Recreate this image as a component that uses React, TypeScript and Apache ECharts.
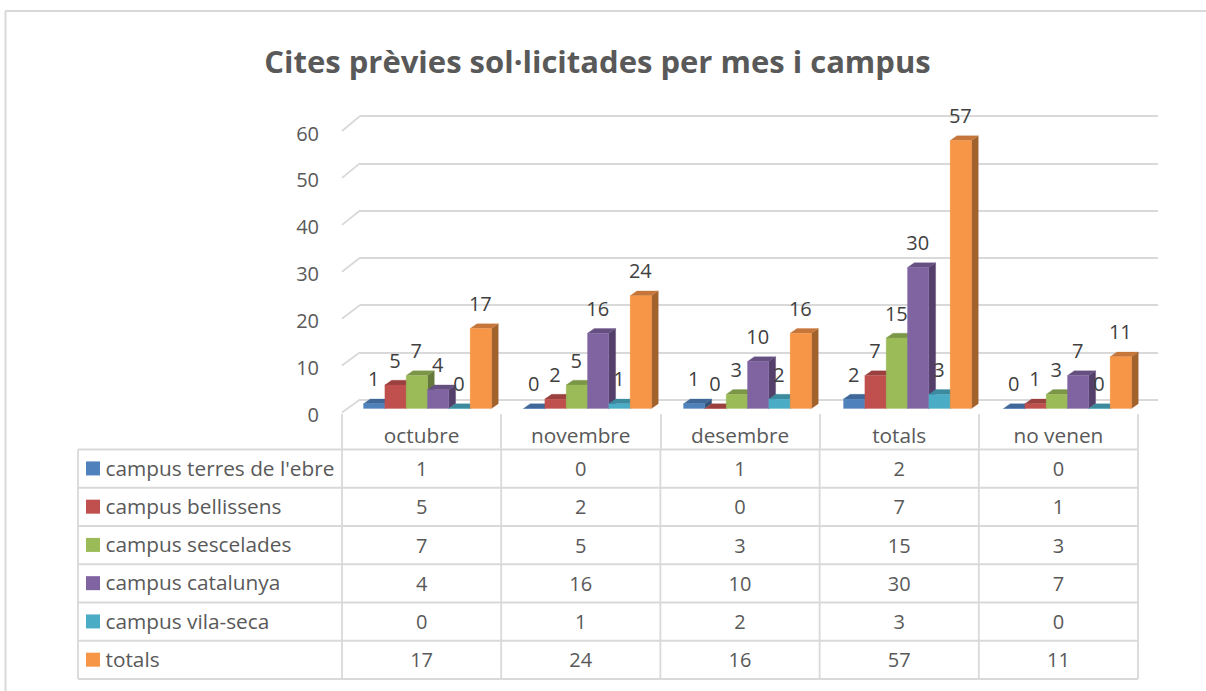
import React, { useEffect, useRef } from "react";
import * as echarts from "echarts";

const titleText = "Cites prèvies sol·licitades per mes i campus";
const categories = ["octubre", "novembre", "desembre", "totals", "no venen"];
const seriesNames = [
  "campus terres de l'ebre",
  "campus bellissens",
  "campus sescelades",
  "campus catalunya",
  "campus vila-seca",
  "totals",
];
const terresEbre = [1, 0, 1, 2, 0];
const bellissens = [5, 2, 0, 7, 1];
const sescelades = [7, 5, 3, 15, 3];
const catalunya = [4, 16, 10, 30, 7];
const vilaSeca = [0, 1, 2, 3, 0];
const totals = [17, 24, 16, 57, 11];
const seriesValues = [terresEbre, bellissens, sescelades, catalunya, vilaSeca, totals];
const yTicks = [0, 10, 20, 30, 40, 50, 60];

const frontColors = ["#4F81BD", "#C0504D", "#9BBB59", "#8064A2", "#4BACC6", "#F79646"];
const topColors = ["#3F6797", "#9A403E", "#7C9647", "#664F81", "#3C8A9E", "#C6763A"];
const sideColors = ["#33547B", "#7D3432", "#657A3A", "#533F6A", "#317081", "#A1622C"];

const FONT = "'Open Sans', sans-serif";
const FS = 20.8;
const FS_NUM = 20;
const GRID = "#D9D9D9";
const TEXT = "#595959";
const LABEL = "#404040";

export default function App() {
  const ref = useRef<HTMLDivElement>(null);
  useEffect(() => {
    const chart = echarts.init(ref.current!, undefined, { renderer: "svg" });

    const barW = 21.33;
    const dx = 6.8;
    const dy = 4.8;

    const customSeries = seriesValues.map((vals, s) => ({
      type: "custom",
      name: seriesNames[s],
      xAxisIndex: 1,
      yAxisIndex: 1,
      clip: false,
      encode: { x: 0, y: 1 },
      data: vals.map((v, i) => [i, v]),
      renderItem: (_p: any, api: any) => {
        const base = api.coord([api.value(0), 0]);
        const top = api.coord([api.value(0), api.value(1)]);
        const x0 = base[0] - 3 * barW + s * barW;
        const x1 = x0 + barW;
        const yb = base[1];
        const yt = top[1];
        const poly = (points: number[][], fill: string, z2: number) => ({
          type: "polygon",
          z2,
          shape: { points },
          style: { fill, stroke: fill, lineWidth: 0.3 },
        });
        return {
          type: "group",
          children: [
            poly([[x1, yb], [x1 + dx, yb - dy], [x1 + dx, yt - dy], [x1, yt]], sideColors[s], s * 3 + 1),
            poly([[x0, yt], [x0 + dx, yt - dy], [x1 + dx, yt - dy], [x1, yt]], topColors[s], s * 3 + 2),
            poly([[x0, yb], [x1, yb], [x1, yt], [x0, yt]], frontColors[s], s * 3 + 3),
            {
              type: "text",
              z2: 100,
              style: {
                text: String(api.value(1)),
                x: x0 + barW / 2 - 0.5,
                y: yt - 25,
                align: "center",
                verticalAlign: "middle",
                fill: LABEL,
                font: `${FS_NUM}px ${FONT}`,
              },
            },
          ],
        };
      },
    }));

    // Table and decoration geometry
    const tableL = 78;
    const colL = 342;
    const colW = 159.2;
    const tableR = colL + colW * categories.length;
    const rowT = 449.5;
    const rowH = 38.25;
    const line = (x1: number, y1: number, x2: number, y2: number, w = 1.8) => ({
      type: "line",
      shape: { x1, y1, x2, y2 },
      style: { stroke: GRID, lineWidth: w },
      silent: true,
    });
    const graphics: any[] = [];
    // frame
    graphics.push(line(5, 11, 1206, 11, 2));
    graphics.push(line(5.5, 11, 5.5, 691, 2));
    // oblique wall edges
    yTicks.forEach((t) => {
      const yBack = 399.5 - (t / 60) * 283.5;
      const yFront = 412.5 - (t / 60) * 281.5;
      graphics.push(line(342, yFront, 360, yBack));
    });
    // table lines
    for (let r = 0; r <= seriesNames.length; r++) {
      graphics.push(line(tableL, rowT + r * rowH, tableR, rowT + r * rowH));
    }
    graphics.push(line(tableL, rowT, tableL, rowT + rowH * seriesNames.length));
    for (let c = 0; c <= categories.length; c++) {
      graphics.push(line(colL + c * colW, rowT, colL + c * colW, rowT + rowH * seriesNames.length));
    }
    // table contents
    seriesNames.forEach((name, r) => {
      const cy = rowT + rowH * (r + 0.5);
      graphics.push({
        type: "rect",
        shape: { x: 86, y: cy - 7.2, width: 14, height: 14 },
        style: { fill: frontColors[r] },
      });
      graphics.push({
        type: "text",
        style: {
          text: name,
          x: 105.5,
          y: cy - 1,
          align: "left",
          verticalAlign: "middle",
          fill: TEXT,
          font: `${FS}px ${FONT}`,
        },
      });
      seriesValues[r].forEach((v, c) => {
        graphics.push({
          type: "text",
          style: {
            text: String(v),
            x: colL + colW * (c + 0.5),
            y: cy,
            align: "center",
            verticalAlign: "middle",
            fill: TEXT,
            font: `${FS_NUM}px ${FONT}`,
          },
        });
      });
    });

    chart.setOption({
      animation: false,
      backgroundColor: "#FFFFFF",
      textStyle: { fontFamily: FONT },
      title: {
        text: titleText,
        left: 592.5,
        top: 40,
        textAlign: "center",
        textStyle: { color: TEXT, fontFamily: FONT, fontWeight: 700, fontSize: 31 },
      },
      grid: [
        { left: 360, width: 798, top: 116, height: 283.5 },
        { left: 347.5, width: 800, top: 126.5, height: 282 },
        { left: 342, width: 796, top: 133, height: 281 },
      ],
      xAxis: [
        { gridIndex: 0, type: "category", data: categories, show: false },
        { gridIndex: 1, type: "category", data: categories, show: false },
        {
          gridIndex: 2,
          type: "category",
          data: categories,
          axisLine: { show: false },
          axisTick: { show: true, length: 35.5, lineStyle: { color: GRID, width: 1.8 } },
          axisLabel: { color: TEXT, fontSize: FS, fontFamily: FONT, margin: 10 },
        },
      ],
      yAxis: [
        {
          gridIndex: 0,
          type: "value",
          min: 0,
          max: 60,
          interval: 10,
          axisLine: { show: false },
          axisTick: { show: false },
          axisLabel: { show: false },
          splitLine: { show: true, lineStyle: { color: GRID, width: 1.8 } },
        },
        { gridIndex: 1, type: "value", min: 0, max: 60, interval: 10, show: false, splitLine: { show: false } },
        {
          gridIndex: 2,
          type: "value",
          min: 0,
          max: 60,
          interval: 10,
          axisLine: { show: false },
          axisTick: { show: false },
          splitLine: { show: false },
          axisLabel: { color: TEXT, fontSize: FS_NUM, fontFamily: FONT, margin: 23 },
        },
      ],
      graphic: graphics,
      series: customSeries,
    });
    return () => chart.dispose();
  }, []);
  return (
    <div
      ref={ref}
      style={{ position: "absolute", left: 0, top: 0, width: 1206, height: 691 }}
    />
  );
}
